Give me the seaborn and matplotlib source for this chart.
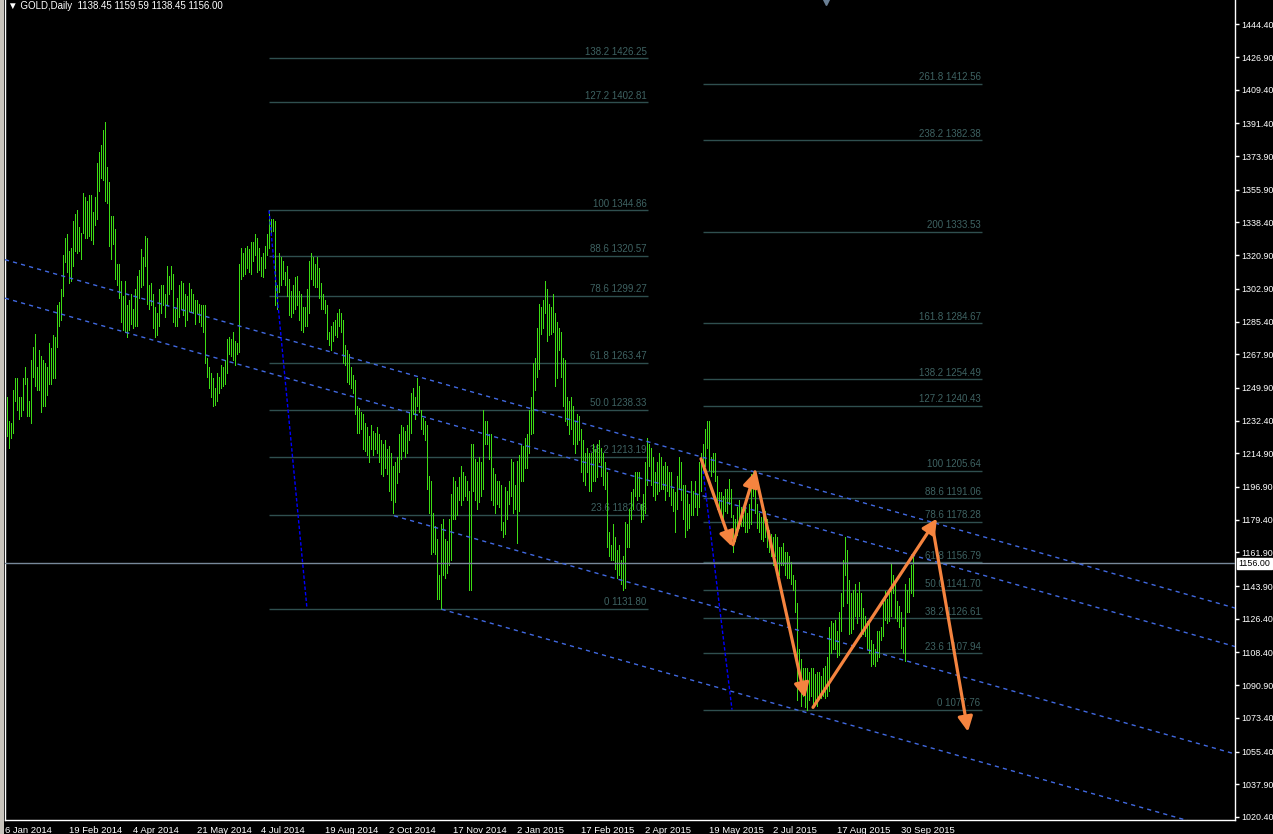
import matplotlib
matplotlib.use("Agg")
import numpy as np
import pandas as pd
import seaborn as sns
import matplotlib.pyplot as plt
from matplotlib.patches import Rectangle

# daily bars, 6 Jan 2014 .. 9 Oct 2015 (one bar per trading day)
highs = [
    1248, 1245, 1232, 1231, 1249, 1255, 1255, 1245, 1245, 1255,
    1261, 1255, 1243, 1265, 1272, 1279, 1261, 1270, 1267, 1265,
    1263, 1261, 1274, 1271, 1278, 1277, 1294, 1296, 1303, 1321,
    1330, 1332, 1323, 1325, 1339, 1343, 1345, 1336, 1333, 1354,
    1352, 1350, 1353, 1353, 1344, 1352, 1370, 1376, 1380, 1388,
    1392, 1368, 1360, 1342, 1342, 1335, 1316, 1316, 1307, 1299,
    1307, 1294, 1297, 1300, 1292, 1303, 1310, 1313, 1324, 1320,
    1331, 1330, 1305, 1306, 1300, 1293, 1290, 1303, 1305, 1305,
    1300, 1315, 1310, 1315, 1311, 1292, 1298, 1305, 1307, 1306,
    1300, 1299, 1306, 1303, 1300, 1297, 1297, 1295, 1294, 1294,
    1294, 1266, 1261, 1258, 1255, 1250, 1258, 1256, 1262, 1261,
    1265, 1276, 1277, 1276, 1280, 1275, 1274, 1316, 1325, 1322,
    1325, 1326, 1324, 1328, 1328, 1332, 1330, 1325, 1320, 1322,
    1326, 1332, 1345, 1340, 1340, 1339, 1305, 1322, 1320, 1318,
    1312, 1315, 1308, 1302, 1305, 1309, 1310, 1302, 1300, 1293,
    1293, 1303, 1318, 1322, 1320, 1316, 1320, 1314, 1306, 1300,
    1297, 1294, 1280, 1283, 1285, 1286, 1290, 1292, 1290, 1286,
    1273, 1270, 1268, 1261, 1257, 1254, 1240, 1239, 1237, 1236,
    1231, 1229, 1224, 1230, 1227, 1226, 1229, 1225, 1222, 1220,
    1222, 1217, 1219, 1215, 1208, 1210, 1213, 1225, 1230, 1229,
    1227, 1230, 1237, 1247, 1250, 1245, 1255, 1251, 1238, 1234,
    1232, 1230, 1203, 1200, 1183, 1176, 1169, 1150, 1177, 1180,
    1169, 1168, 1180, 1193, 1202, 1200, 1197, 1202, 1208, 1205,
    1203, 1200, 1195, 1220, 1220, 1212, 1210, 1213, 1210, 1238,
    1232, 1232, 1225, 1225, 1207, 1204, 1200, 1200, 1198, 1178,
    1197, 1195, 1200, 1212, 1210, 1198, 1211, 1214, 1220, 1219,
    1223, 1225, 1238, 1245, 1263, 1266, 1282, 1295, 1293, 1297,
    1307, 1303, 1295, 1293, 1300, 1290, 1285, 1282, 1280, 1266,
    1265, 1245, 1243, 1245, 1240, 1232, 1236, 1235, 1228, 1222,
    1215, 1218, 1215, 1215, 1220, 1217, 1220, 1222, 1218, 1215,
    1210, 1205, 1173, 1166, 1177, 1170, 1163, 1166, 1158, 1160,
    1178, 1177, 1185, 1194, 1196, 1205, 1205, 1205, 1188, 1193,
    1210, 1223, 1220, 1218, 1213, 1205, 1210, 1215, 1213, 1208,
    1210, 1208, 1205, 1205, 1196, 1194, 1203, 1213, 1210, 1198,
    1198, 1193, 1188, 1200, 1195, 1200, 1193, 1210, 1215, 1220,
    1228, 1232, 1232, 1213, 1215, 1215, 1203, 1194, 1194, 1192,
    1196, 1196, 1201, 1196, 1182, 1180, 1186, 1190, 1186, 1182,
    1186, 1183, 1188, 1204, 1205, 1200, 1188, 1183, 1181, 1187,
    1184, 1180, 1174, 1172, 1170, 1172, 1170, 1165, 1165, 1167,
    1162, 1162, 1160, 1157, 1150, 1147, 1135, 1110, 1105, 1100,
    1100, 1100, 1098, 1100, 1100, 1097, 1098, 1098, 1096, 1100,
    1101, 1106, 1122, 1125, 1124, 1126, 1120, 1130, 1140, 1158,
    1170, 1163, 1147, 1140, 1142, 1145, 1140, 1146, 1140, 1132,
    1128, 1125, 1125, 1115, 1113, 1110, 1120, 1120, 1122, 1135,
    1141, 1137, 1140, 1156, 1150, 1145, 1136, 1133, 1130, 1122,
    1145, 1142, 1148, 1155, 1159.59,
]
lows = [
    1216, 1224, 1218, 1223, 1226, 1243, 1238, 1233, 1235, 1238,
    1252, 1235, 1235, 1231, 1256, 1251, 1249, 1249, 1237, 1240,
    1240, 1246, 1252, 1252, 1255, 1255, 1272, 1283, 1286, 1299,
    1317, 1312, 1306, 1307, 1315, 1323, 1322, 1323, 1319, 1333,
    1330, 1330, 1331, 1329, 1327, 1337, 1340, 1355, 1362, 1361,
    1350, 1349, 1326, 1319, 1327, 1308, 1305, 1298, 1285, 1281,
    1280, 1277, 1281, 1284, 1282, 1283, 1283, 1298, 1304, 1305,
    1315, 1295, 1292, 1294, 1282, 1277, 1278, 1283, 1290, 1294,
    1288, 1294, 1300, 1303, 1285, 1283, 1283, 1288, 1292, 1289,
    1283, 1286, 1291, 1291, 1290, 1284, 1290, 1285, 1283, 1280,
    1263, 1256, 1250, 1245, 1240, 1241, 1243, 1247, 1250, 1251,
    1252, 1258, 1268, 1267, 1265, 1262, 1268, 1269, 1308, 1310,
    1311, 1314, 1312, 1311, 1318, 1321, 1312, 1313, 1310, 1309,
    1314, 1321, 1325, 1332, 1334, 1294, 1292, 1301, 1305, 1308,
    1305, 1299, 1289, 1288, 1290, 1292, 1294, 1286, 1281, 1280,
    1283, 1283, 1290, 1308, 1305, 1304, 1304, 1298, 1292, 1292,
    1290, 1276, 1273, 1270, 1275, 1278, 1277, 1283, 1280, 1263,
    1262, 1253, 1252, 1250, 1247, 1236, 1226, 1226, 1228, 1217,
    1216, 1214, 1210, 1217, 1214, 1217, 1215, 1210, 1204, 1203,
    1207, 1204, 1195, 1190, 1183, 1189, 1199, 1205, 1212, 1216,
    1213, 1215, 1222, 1226, 1236, 1233, 1240, 1237, 1228, 1225,
    1222, 1196, 1183, 1161, 1162, 1161, 1137, 1137, 1131.8, 1150,
    1148, 1151, 1155, 1158, 1180, 1180, 1182, 1190, 1187, 1190,
    1192, 1190, 1142, 1142, 1195, 1190, 1185, 1189, 1192, 1196,
    1220, 1220, 1212, 1190, 1187, 1183, 1188, 1186, 1174, 1170,
    1172, 1180, 1188, 1192, 1183, 1185, 1167, 1184, 1200, 1200,
    1207, 1207, 1215, 1225, 1226, 1249, 1256, 1260, 1279, 1282,
    1290, 1275, 1278, 1279, 1280, 1251, 1255, 1270, 1256, 1240,
    1232, 1230, 1225, 1228, 1220, 1215, 1220, 1222, 1205, 1200,
    1198, 1205, 1195, 1195, 1200, 1200, 1202, 1210, 1203, 1198,
    1196, 1165, 1160, 1158, 1158, 1153, 1148, 1150, 1145, 1142,
    1143, 1165, 1165, 1180, 1185, 1192, 1190, 1192, 1178, 1180,
    1183, 1198, 1208, 1198, 1192, 1190, 1193, 1195, 1196, 1196,
    1190, 1195, 1192, 1187, 1184, 1173, 1185, 1196, 1190, 1180,
    1170, 1174, 1175, 1182, 1182, 1186, 1182, 1186, 1195, 1205,
    1208, 1218, 1206, 1203, 1205, 1200, 1185, 1183, 1183, 1180,
    1184, 1183, 1188, 1181, 1162, 1168, 1171, 1175, 1176, 1176,
    1173, 1173, 1175, 1177, 1192, 1183, 1175, 1173, 1169, 1168,
    1170, 1165, 1162, 1160, 1155, 1160, 1148, 1150, 1155, 1155,
    1150, 1148, 1148, 1145, 1142, 1130, 1083, 1095, 1080, 1085,
    1079, 1077.76, 1083, 1085, 1080, 1082, 1080, 1084, 1084, 1085,
    1084, 1085, 1088, 1108, 1110, 1110, 1106, 1107, 1120, 1133,
    1150, 1135, 1118, 1119, 1121, 1128, 1124, 1128, 1117, 1118,
    1117, 1110, 1108, 1101, 1102, 1101, 1104, 1106, 1115, 1117,
    1126, 1124, 1125, 1128, 1140, 1127, 1125, 1122, 1111, 1108,
    1104, 1130, 1130, 1140, 1138.45,
]

date_ticks = [0, 32, 64, 96, 128, 160, 192, 224, 256, 288, 320, 352, 384, 416, 448]
date_labels = ["6 Jan 2014", "19 Feb 2014", "4 Apr 2014", "21 May 2014", "4 Jul 2014",
               "19 Aug 2014", "2 Oct 2014", "17 Nov 2014", "2 Jan 2015", "17 Feb 2015",
               "2 Apr 2015", "19 May 2015", "2 Jul 2015", "17 Aug 2015", "30 Sep 2015"]
price_ticks = [1444.40, 1426.90, 1409.40, 1391.40, 1373.90, 1355.90, 1338.40, 1320.90,
               1302.90, 1285.40, 1267.90, 1249.90, 1232.40, 1214.90, 1196.90, 1179.40,
               1161.90, 1143.90, 1126.40, 1108.40, 1090.90, 1073.40, 1055.40, 1037.90, 1020.40]
last_price = 1156.00

# fibonacci set 1 (Jul 2014 high -> Nov 2014 low)
fib1_levels = ["0", "23.6", "38.2", "50.0", "61.8", "78.6", "88.6", "100", "127.2", "138.2"]
fib1_prices = [1131.80, 1182.08, 1213.19, 1238.33, 1263.47, 1299.27, 1320.57, 1344.86, 1402.81, 1426.25]
fib1_span = [132, 321.5]
fib1_trend = ([132, 151], [1344.86, 1131.80])

# fibonacci set 2 (May 2015 high -> Jul 2015 low)
fib2_levels = ["0", "23.6", "38.2", "50.0", "61.8", "78.6", "88.6", "100",
               "127.2", "138.2", "161.8", "200", "238.2", "261.8"]
fib2_prices = [1077.76, 1107.94, 1126.61, 1141.70, 1156.79, 1178.28, 1191.06, 1205.64,
               1240.43, 1254.49, 1284.67, 1333.53, 1382.38, 1412.56]
fib2_span = [349, 488.5]
fib2_trend = ([349, 363.5], [1205.64, 1077.76])

# descending channel lines: anchor bar, anchor price, common slope per bar
chan_bars = [0, 0, 194.5, 218.3]
chan_prices = [1318.5, 1297.9, 1181.5, 1131.5]
chan_slope = -0.303

# orange zigzag arrows
arrow_from_bar = [348, 364, 375, 404, 463.5]
arrow_from_price = [1212, 1166, 1205, 1079, 1177.5]
arrow_to_bar = [363.5, 375, 400, 466, 481.5]
arrow_to_price = [1165, 1205, 1084, 1180, 1066]

BAR_GREEN = "#3ddc14"
FIB_COL = "#2f4f4f"
FIB_TXT = "#3e6262"
CHAN_COL = "#4169e1"
ORANGE = "#f5843f"

sns.set_theme(style="dark", rc={"axes.facecolor": "black", "figure.facecolor": "black",
                                "axes.edgecolor": "white", "axes.grid": False})
plt.rcParams["font.family"] = ["Liberation Sans", "DejaVu Sans"]

W, H = 1273, 834
fig = plt.figure(figsize=(W / 100, H / 100), dpi=100)
ax = fig.add_axes([4.5 / W, 14 / H, 1230.8 / W, 820 / H])
ax.set_facecolor("black")

n = len(highs)
bars = pd.DataFrame({"bar": np.arange(n), "high": highs, "low": lows})

# fib levels
for prices, levels, span in [(fib1_prices, fib1_levels, fib1_span), (fib2_prices, fib2_levels, fib2_span)]:
    for p, lv in zip(prices, levels):
        ax.plot(span, [p, p], color=FIB_COL, lw=1, zorder=1, solid_capstyle="butt")
        ax.annotate(f"{lv} {p:.2f}", xy=(span[1], p), xytext=(-1, 1), textcoords="offset points",
                    ha="right", va="bottom", fontsize=7, color=FIB_TXT, zorder=1)

# price bars
ax.vlines(bars["bar"], bars["low"], bars["high"], colors=BAR_GREEN, linewidth=0.5,
          antialiased=False, zorder=2)

# current price line
ax.axhline(last_price, color="#778899", lw=1, zorder=3)

# channel lines
xl = (-0.25, 615.15)
for b0, p0 in zip(chan_bars, chan_prices):
    xs = np.array([max(b0, xl[0]), xl[1]])
    ys = p0 + chan_slope * (xs - b0)
    sns.lineplot(x=xs, y=ys, ax=ax, color=CHAN_COL, lw=1, linestyle=(0, (3, 3)), zorder=3)

# fib trend lines
for tb, tp in [fib1_trend, fib2_trend]:
    ax.plot(tb, tp, color="#0000ff", lw=1, linestyle=(0, (2.5, 1.5)), zorder=3)

# arrows
for xa, ya, xb, yb in zip(arrow_from_bar, arrow_from_price, arrow_to_bar, arrow_to_price):
    ax.annotate("", xy=(xb, yb), xytext=(xa, ya),
                arrowprops=dict(arrowstyle="-|>,head_length=0.8,head_width=0.4", color=ORANGE,
                                lw=2.3, mutation_scale=11, shrinkA=0, shrinkB=0), zorder=6)

ax.set_xlim(*xl)
ax.set_ylim(1018.76, 1457.4)

ax.yaxis.tick_right()
ax.set_yticks(price_ticks)
ax.set_yticklabels([f"{v:.2f}" for v in price_ticks])
ax.set_xticks(date_ticks)
ax.set_xticklabels(date_labels, ha="left")
ax.tick_params(axis="y", colors="white", length=3, width=1, pad=1.2, labelsize=6.4, direction="out",
               right=True, left=False)
ax.tick_params(axis="x", colors="white", length=3, width=1, pad=1, labelsize=6.8, direction="out")
ax.set_xlabel("")
ax.set_ylabel("")
for side in ["left", "right", "bottom"]:
    ax.spines[side].set_color("white")
    ax.spines[side].set_linewidth(1)
ax.spines["top"].set_visible(False)

ax.annotate(f"{last_price:.2f}", xy=(1.0, last_price), xycoords=("axes fraction", "data"),
            xytext=(2.2, 0), textcoords="offset points", ha="left", va="center", fontsize=6.4,
            color="black", bbox=dict(boxstyle="square,pad=0.15", fc="white", ec="white"),
            annotation_clip=False)

fig.text(8 / W, 1 - 6 / H, "\u25bc GOLD,Daily  1138.45 1159.59 1138.45 1156.00",
         color="white", fontsize=7, ha="left", va="center")

# chart shift marker at the top edge
fig.add_artist(plt.Line2D([826 / W], [1 - 2 / H], marker="v", markersize=4.5, color="#6a7f95",
                          transform=fig.transFigure, linestyle="none"))

# window frame strip at the far left
fig.patches.append(Rectangle((0, 0), 3.5 / W, 1, transform=fig.transFigure,
                             facecolor="#c8c4bc", edgecolor="none"))

fig.savefig("out.png", dpi=100, facecolor="black")
